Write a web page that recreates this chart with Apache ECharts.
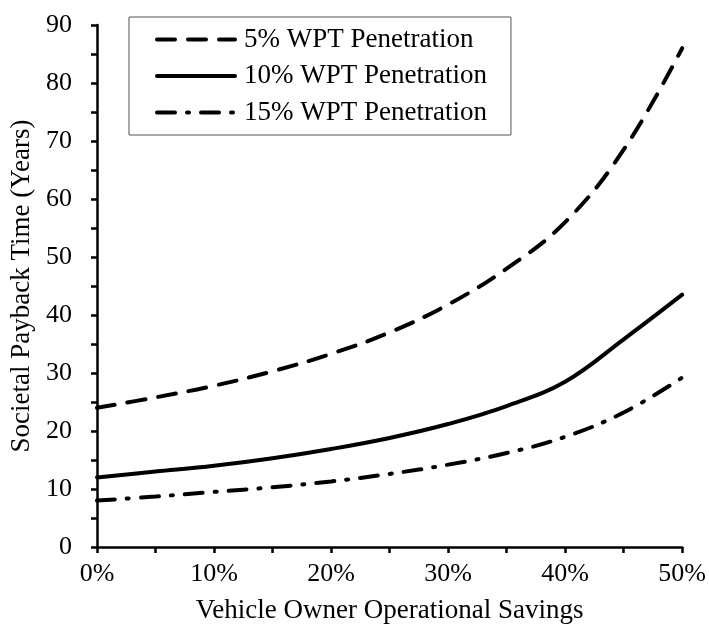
<!DOCTYPE html>
<html>
<head>
<meta charset="utf-8">
<script src="https://cdn.jsdelivr.net/npm/echarts@6/dist/echarts.min.js"></script>
<style>html,body{margin:0;padding:0;background:#fff;}#c{width:709px;height:629px;}</style>
</head>
<body>
<div id="c"></div>
<script>
var savings = [0, 5, 10, 15, 20, 25, 30, 35, 40, 45, 50];
var pen5 = [24, 25.8, 27.8, 30.3, 33.3, 37, 41.8, 48, 56, 68.5, 86];
var pen10 = [12, 13, 14, 15.3, 16.9, 18.8, 21.2, 24.3, 28.5, 35.8, 43.5];
var pen15 = [8, 8.7, 9.5, 10.3, 11.3, 12.6, 14.2, 16.2, 19, 23.2, 29.2];
var seriesNames = ['5% WPT Penetration', '10% WPT Penetration', '15% WPT Penetration'];

function pairs(ys) { return savings.map(function (x, i) { return [x, ys[i]]; }); }

var font = 'Liberation Serif';
var chart = echarts.init(document.getElementById('c'), null, { renderer: 'canvas' });
chart.setOption({
  backgroundColor: '#fff',
  animation: false,
  grid: { left: 97, right: 26, top: 25, bottom: 82 },
  legend: {
    orient: 'vertical', left: 129, top: 17,
    padding: [9, 24, 9, 26],
    itemWidth: 78, itemHeight: 22, itemGap: 9.5,
    borderColor: '#555', borderWidth: 1, backgroundColor: '#fff',
    itemStyle: { opacity: 0 },
    lineStyle: { width: 4 },
    textStyle: { fontFamily: font, fontSize: 27, color: '#000', padding: [0, 0, 0, 4] },
    data: seriesNames
  },
  xAxis: {
    type: 'value', min: 0, max: 50, interval: 10,
    axisLine: { lineStyle: { color: '#000', width: 2.5 } },
    axisTick: { length: 6, lineStyle: { color: '#000', width: 2.5 } },
    minorTick: { show: true, splitNumber: 2, length: 6, lineStyle: { color: '#000', width: 2.5 } },
    splitLine: { show: false },
    axisLabel: { formatter: '{value}%', fontFamily: font, fontSize: 26, color: '#000', margin: 14 },
    name: 'Vehicle Owner Operational Savings', nameLocation: 'middle', nameGap: 50,
    nameTextStyle: { fontFamily: font, fontSize: 27, color: '#000' }
  },
  yAxis: {
    type: 'value', min: 0, max: 90, interval: 10,
    axisLine: { show: true, lineStyle: { color: '#000', width: 2.5 } },
    axisTick: { show: true, length: 6, lineStyle: { color: '#000', width: 2.5 } },
    minorTick: { show: true, splitNumber: 2, length: 6, lineStyle: { color: '#000', width: 2.5 } },
    splitLine: { show: false },
    axisLabel: { fontFamily: font, fontSize: 26, color: '#000', margin: 25 },
    name: 'Societal Payback Time (Years)', nameLocation: 'middle', nameGap: 60,
    nameTextStyle: { fontFamily: font, fontSize: 27, color: '#000' }
  },
  series: [
    { name: seriesNames[0], type: 'line', data: pairs(pen5), smooth: 0.4, symbol: 'none',
      itemStyle: { color: '#000' },
      lineStyle: { color: '#000', width: 4, type: [18, 13], cap: 'round' } },
    { name: seriesNames[1], type: 'line', data: pairs(pen10), smooth: 0.4, symbol: 'none',
      itemStyle: { color: '#000' },
      lineStyle: { color: '#000', width: 4, type: 'solid', cap: 'round' } },
    { name: seriesNames[2], type: 'line', data: pairs(pen15), smooth: 0.4, symbol: 'none',
      itemStyle: { color: '#000' },
      lineStyle: { color: '#000', width: 4, type: [18, 12, 2, 12], cap: 'round' } }
  ]
});
</script>
</body>
</html>
